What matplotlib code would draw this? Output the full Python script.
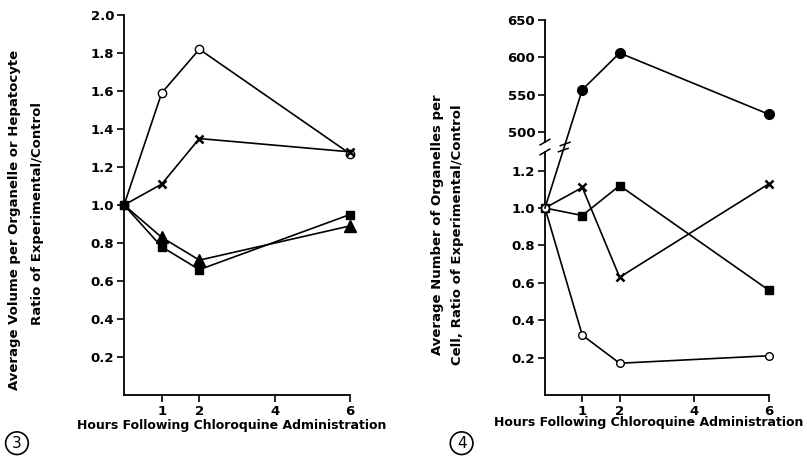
import numpy as np
import matplotlib
matplotlib.use("Agg")
import matplotlib.pyplot as plt
from matplotlib.lines import Line2D

plt.rcParams['font.family'] = ['DejaVu Sans']

hours = [0, 1, 2, 4, 6]
xticks = [1, 2, 4, 6]
t = [0, 1, 2, 6]

# figure 3 : volume ratios
vol_open_circle = [1.0, 1.59, 1.82, 1.27]
vol_cross = [1.0, 1.11, 1.35, 1.28]
vol_triangle = [1.0, 0.83, 0.71, 0.89]
vol_square = [1.0, 0.78, 0.66, 0.95]
left_yticks = [0.2, 0.4, 0.6, 0.8, 1.0, 1.2, 1.4, 1.6, 1.8, 2.0]

# figure 4 : number ratios
num_filled_circle = [1.0, 557, 606, 524]
num_cross = [1.0, 1.11, 0.63, 1.13]
num_square = [1.0, 0.96, 1.12, 0.56]
num_open_circle = [1.0, 0.32, 0.17, 0.21]
right_low_yticks = [0.2, 0.4, 0.6, 0.8, 1.0, 1.2]
right_up_yticks = [500, 550, 600, 650]

xlabel = 'Hours Following Chloroquine Administration'

fig = plt.figure(figsize=(8.07, 4.72), dpi=100)

def style(ax):
    ax.spines['top'].set_visible(False)
    ax.spines['right'].set_visible(False)
    ax.spines['left'].set_linewidth(1.3)
    ax.spines['bottom'].set_linewidth(1.3)
    ax.tick_params(direction='out', length=5, width=1.2, labelsize=9.5, pad=2)
    for lab in ax.get_yticklabels() + ax.get_xticklabels():
        lab.set_fontweight('bold')

lw = 1.2
ms = 6

# ---- left panel
ax1 = fig.add_axes([0.1537, 0.1631, 0.280, 0.805])
ax1.plot(t, vol_open_circle, color='black', lw=lw, marker='o', ms=ms, mfc='white', mec='black', zorder=3)
ax1.plot(t, vol_cross, color='black', lw=lw, marker='x', ms=ms, mew=1.8, zorder=3)
ax1.plot(t[1:], vol_triangle[1:], color='none', marker='^', ms=ms + 2, mfc='black', mec='black', zorder=4)
ax1.plot(t, vol_triangle, color='black', lw=lw, zorder=3)
ax1.plot(t, vol_square, color='black', lw=lw, marker='s', ms=ms - 0.5, mfc='black', zorder=3)
ax1.set_xlim(0, 6)
ax1.set_ylim(0, 2.0)
ax1.set_xticks(xticks)
ax1.set_yticks(left_yticks)
ax1.set_yticklabels(['%.1f' % v for v in left_yticks])
style(ax1)
for m in ax1.lines:
    m.set_clip_on(False)

fig.text(0.018, 0.534, 'Average Volume per Organelle or Hepatocyte', rotation=90,
         ha='center', va='center', fontsize=9.5, fontweight='bold')
fig.text(0.046, 0.547, 'Ratio of Experimental/Control', rotation=90,
         ha='center', va='center', fontsize=9.5, fontweight='bold')
fig.text(0.287, 0.099, xlabel, ha='center', va='center', fontsize=9, fontweight='bold')
fig.text(0.021, 0.061, '3', ha='center', va='center', fontsize=11,
         bbox=dict(boxstyle='circle,pad=0.25', fc='white', ec='black', lw=1.2))

# ---- right panel (broken axis)
ax_lo = fig.add_axes([0.6753, 0.1631, 0.2776, 0.515])
ax_up = fig.add_axes([0.6753, 0.699, 0.2776, 0.2585])

ax_lo.plot(t, num_cross, color='black', lw=lw, marker='x', ms=ms, mew=1.8, zorder=3)
ax_lo.plot(t, num_square, color='black', lw=lw, marker='s', ms=ms, mfc='black', zorder=3)
ax_lo.plot(t, num_open_circle, color='black', lw=lw, marker='o', ms=ms - 0.5, mfc='white', mec='black', zorder=3)
ax_lo.set_xlim(0, 6)
ax_lo.set_ylim(0, 1.30)
ax_lo.set_xticks(xticks)
ax_lo.set_yticks(right_low_yticks)
ax_lo.set_yticklabels(['%.1f' % v for v in right_low_yticks])
style(ax_lo)
for m in ax_lo.lines:
    m.set_clip_on(False)

ax_up.plot(t[1:], num_filled_circle[1:], color='black', lw=lw, marker='o', ms=ms + 1, mfc='black', zorder=3)
ax_up.set_xlim(0, 6)
ax_up.set_ylim(487, 650)
ax_up.set_yticks(right_up_yticks)
ax_up.set_xticks([])
style(ax_up)
ax_up.spines['bottom'].set_visible(False)
for m in ax_up.lines:
    m.set_clip_on(False)

# segment that crosses the break: from (0, 1.0) on the lower axes to (1, 557) on the upper
inv = fig.transFigure.inverted()
p0 = inv.transform(ax_lo.transData.transform((t[0], num_filled_circle[0])))
p1 = inv.transform(ax_up.transData.transform((t[1], num_filled_circle[1])))
fig.add_artist(Line2D([p0[0], p1[0]], [p0[1], p1[1]], color='black', lw=lw,
                      transform=fig.transFigure))

# break marks on the axis and on the crossing line
yb_lo = inv.transform(ax_lo.transAxes.transform((0, 1)))[1]
yb_up = inv.transform(ax_up.transAxes.transform((0, 0)))[1]
xa = inv.transform(ax_lo.transAxes.transform((0, 0)))[0]
d = 0.006
for yb in (yb_lo, yb_up):
    fig.add_artist(Line2D([xa - d, xa + d], [yb - d, yb + d], color='black', lw=1.1,
                          transform=fig.transFigure))
frac = lambda y: (y - p0[1]) / (p1[1] - p0[1])
for yb in (yb_lo + 0.004, yb_up - 0.004):
    xl = p0[0] + frac(yb) * (p1[0] - p0[0])
    fig.add_artist(Line2D([xl - d, xl + d], [yb - d * 0.6, yb + d * 0.6], color='black', lw=1.1,
                          transform=fig.transFigure))

fig.text(0.542, 0.523, 'Average Number of Organelles per', rotation=90,
         ha='center', va='center', fontsize=9.5, fontweight='bold')
fig.text(0.567, 0.502, 'Cell, Ratio of Experimental/Control', rotation=90,
         ha='center', va='center', fontsize=9.5, fontweight='bold')
fig.text(0.804, 0.104, xlabel, ha='center', va='center', fontsize=9, fontweight='bold')
fig.text(0.572, 0.061, '4', ha='center', va='center', fontsize=11,
         bbox=dict(boxstyle='circle,pad=0.25', fc='white', ec='black', lw=1.2))

fig.savefig('out.png', dpi=100)
